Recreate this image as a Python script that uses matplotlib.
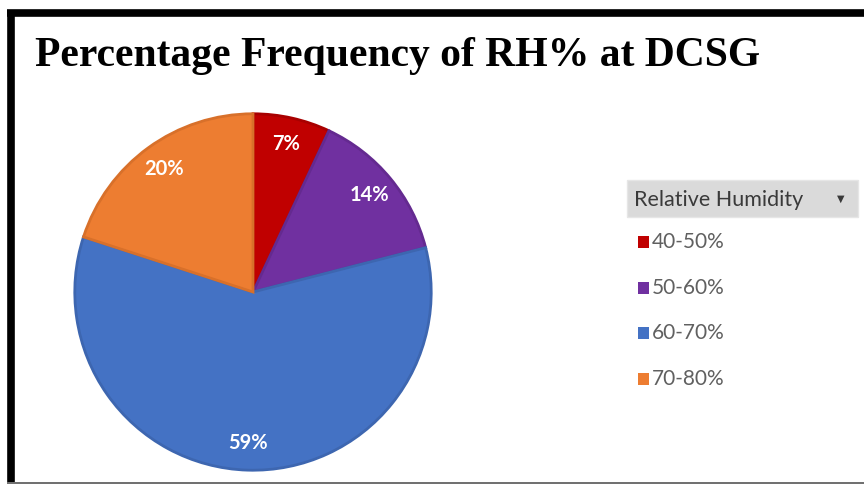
import matplotlib.pyplot as plt
import matplotlib.patches as patches
from matplotlib.lines import Line2D

# RH class share at DCSG (percent)
categories = ["40-50%", "50-60%", "60-70%", "70-80%"]
shares = [7, 14, 59, 20]
colors = ["#C00000", "#7030A0", "#4472C4", "#ED7D31"]
edge_colors = ["#A80000", "#642A90", "#3D66B0", "#D8702A"]

W, H = 864, 484
fig = plt.figure(figsize=(W / 100, H / 100), dpi=100)
fig.patch.set_facecolor("white")

# pie axes: centre at (253, 292) px, radius 180 px
cx, cy, r = 253, 292, 180
ax = fig.add_axes([(cx - r) / W, (H - cy - r) / H, 2 * r / W, 2 * r / H])
wedges, texts, autotexts = ax.pie(
    shares, colors=colors, startangle=90, counterclock=False,
    autopct=lambda p: f"{p:.0f}%", pctdistance=0.85,
    wedgeprops=dict(linewidth=2),
    textprops=dict(color="white", fontsize=14.5, fontweight="bold", family="Lato"))
for w, ec in zip(wedges, edge_colors):
    w.set_edgecolor(ec)
ax.set_xlim(-1.01, 1.01)
ax.set_ylim(-1.01, 1.01)
ax.set_aspect("equal")
ax.axis("off")

# title
fig.text(35 / W, 1 - 56 / H, "Percentage Frequency of RH% at DCSG",
         family="Liberation Serif", fontweight="bold", fontsize=30,
         ha="left", va="center")

# legend header with dropdown arrow
fig.patches.append(patches.Rectangle((627 / W, 1 - 217 / H), 231 / W, 37 / H,
                                     transform=fig.transFigure,
                                     facecolor="#DADADA", edgecolor="#E6E6E6", lw=1))
fig.text(634 / W, 1 - 200 / H, "Relative Humidity", family="Lato", fontsize=15.5,
         color="#3A3A3A", ha="left", va="center")
fig.text(841 / W, 1 - 199 / H, "▼", family="DejaVu Sans", fontsize=7,
         color="#3A3A3A", ha="center", va="center")

# legend entries
item_y = [242, 288, 333, 379]
for cat, col, y in zip(categories, colors, item_y):
    fig.patches.append(patches.Rectangle((638 / W, 1 - (y + 6) / H), 11 / W, 12 / H,
                                         transform=fig.transFigure,
                                         facecolor=col, edgecolor="none"))
    fig.text(652 / W, 1 - y / H, cat, family="Lato", fontsize=15,
             color="#606060", ha="left", va="center")

# black frame on top and left, thin line at bottom
fig.add_artist(Line2D([10.5 / W, 10.5 / W], [1 - 12.5 / H, 1 - 482 / H],
                      transform=fig.transFigure, color="black", lw=5.5,
                      solid_capstyle="butt"))
fig.add_artist(Line2D([7 / W, 1], [1 - 12.8 / H, 1 - 12.8 / H],
                      transform=fig.transFigure, color="black", lw=5.5,
                      solid_capstyle="butt"))
fig.add_artist(Line2D([7 / W, 1], [1 - 482.5 / H, 1 - 482.5 / H],
                      transform=fig.transFigure, color="#555555", lw=1.2,
                      solid_capstyle="butt"))

fig.savefig("out.png", dpi=100)
